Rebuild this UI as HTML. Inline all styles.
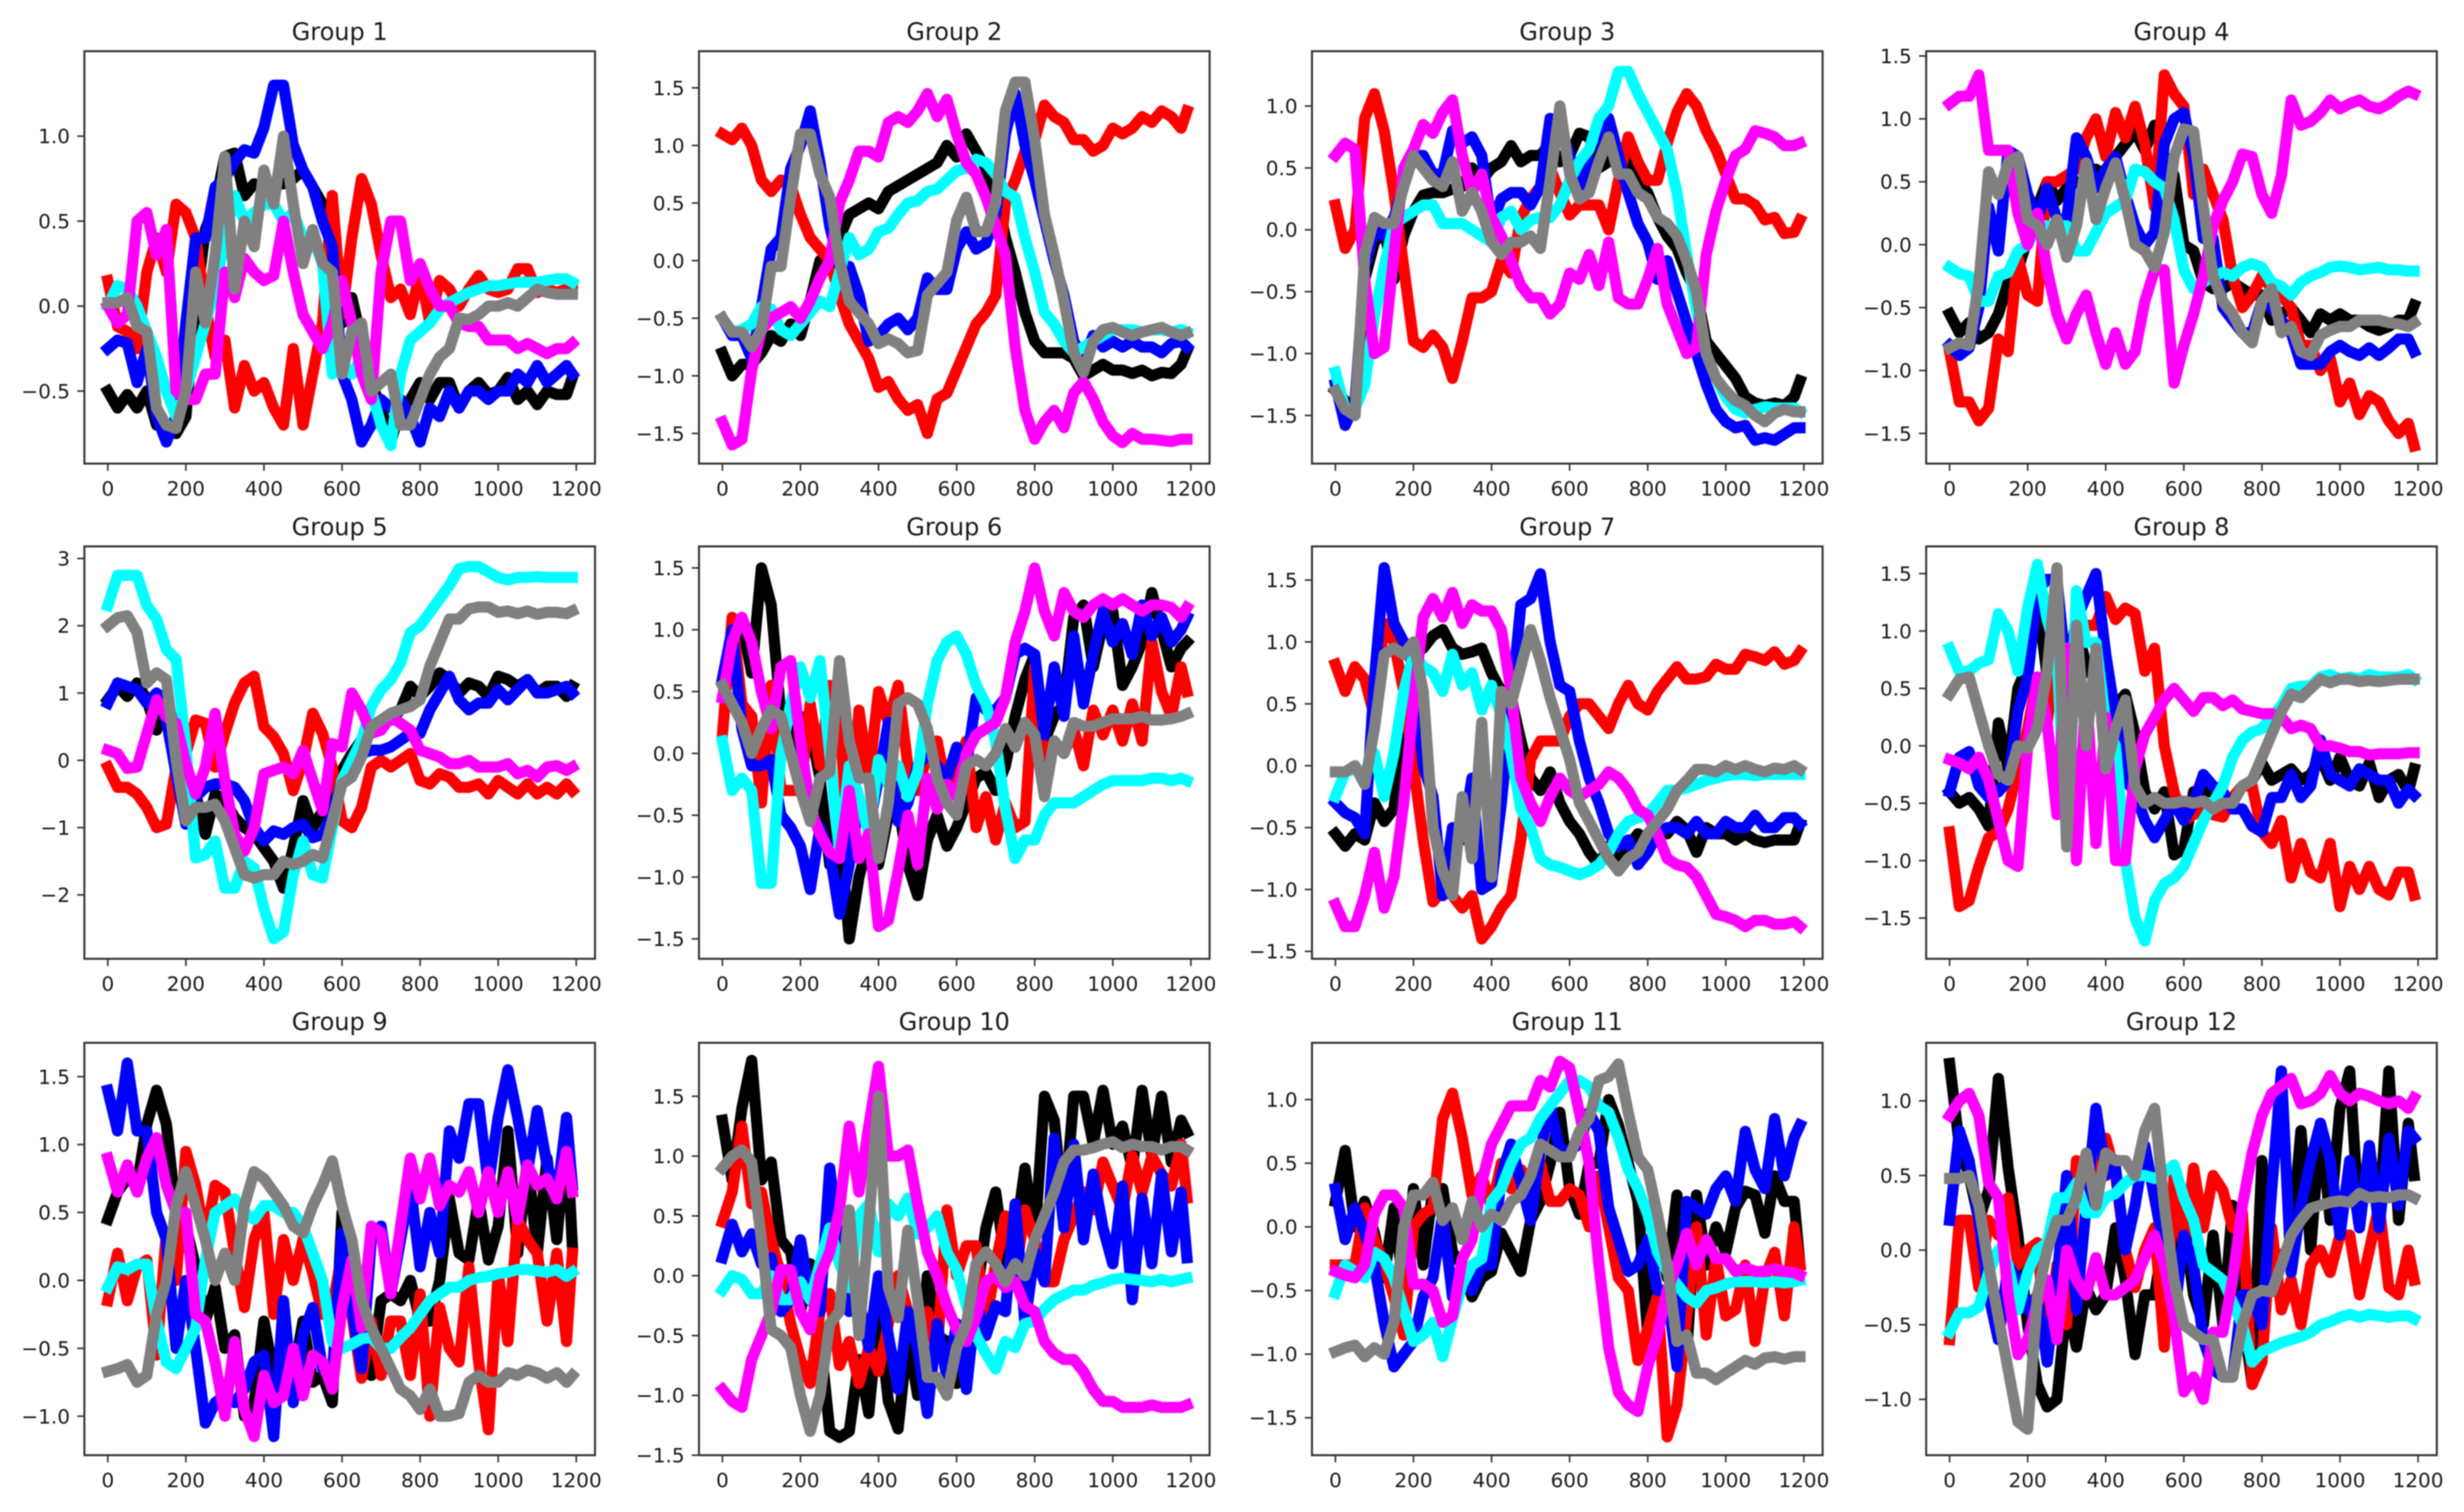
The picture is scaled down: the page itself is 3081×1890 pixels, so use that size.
<!DOCTYPE html>
<html lang="en">
<head>
<meta charset="utf-8">
<title>Group line charts</title>
<style>
html,body{margin:0;padding:0;background:#fff;width:3081px;height:1890px;overflow:hidden}
#chart{display:block;filter:blur(0.9px)}
text{font-family:"DejaVu Sans","Liberation Sans",sans-serif;fill:#1a1a1a}
</style>
</head>
<body>
<svg id="chart" xmlns="http://www.w3.org/2000/svg" width="3081" height="1890" viewBox="0 0 3081 1890"></svg>
<script>
const sampleStep = 25;
const lastSample = 1190;
const xTickValues = [0,200,400,600,800,1000,1200];
const xDomain = [-60,1248];

const yDomains = [[-0.927,1.50],[-1.762,1.818],[-1.889,1.443],[-1.74,1.538],[-2.95,3.18],[-1.661,1.674],[-1.56,1.772],[-1.855,1.737],[-1.287,1.749],[-1.5,1.947],[-1.794,1.446],[-1.374,1.389]];
const yTicks1 = [-0.5,0,0.5,1];
const yTicks2 = [-1.5,-1,-0.5,0,0.5,1,1.5];
const yTicks3 = [-1.5,-1,-0.5,0,0.5,1];
const yTicks4 = [-1.5,-1,-0.5,0,0.5,1,1.5];
const yTicks5 = [-2,-1,0,1,2,3];
const yTicks6 = [-1.5,-1,-0.5,0,0.5,1,1.5];
const yTicks7 = [-1.5,-1,-0.5,0,0.5,1,1.5];
const yTicks8 = [-1.5,-1,-0.5,0,0.5,1,1.5];
const yTicks9 = [-1,-0.5,0,0.5,1,1.5];
const yTicks10 = [-1.5,-1,-0.5,0,0.5,1,1.5];
const yTicks11 = [-1.5,-1,-0.5,0,0.5,1];
const yTicks12 = [-1,-0.5,0,0.5,1];

const g1Black = [-.5,-.6,-.52,-.6,-.5,-.7,-.7,-.75,-.65,0,.45,.6,.88,.9,.65,.72,.7,.72,.72,.75,.8,.7,.6,.3,-.1,.05,-.2,-.45,-.6,-.8,-.6,-.55,-.45,-.55,-.45,-.45,-.6,-.5,-.45,-.52,-.5,-.42,-.55,-.5,-.58,-.5,-.52,-.52,-.42];
const g1Red = [.15,-.12,-.15,-.25,.2,.4,.2,.6,.55,.4,0,-.3,-.2,-.6,-.35,-.5,-.45,-.6,-.7,-.25,-.7,-.4,-.1,.65,-.05,.4,.75,.6,.3,.05,.1,-.05,.2,-.1,.15,.1,0,.1,.18,.1,.08,.1,.22,.22,.08,.1,.08,.1,.1];
const g1Blue = [-.25,-.2,-.22,-.45,-.25,-.65,-.8,-.65,-.1,.4,.4,.7,.75,.85,.92,.9,1.05,1.3,1.3,.95,.8,.7,.5,.35,-.4,-.55,-.8,-.7,-.55,-.6,-.55,-.65,-.8,-.6,-.65,-.5,-.6,-.5,-.5,-.55,-.5,-.5,-.4,-.45,-.35,-.45,-.4,-.35,-.4];
const g1Cyan = [0,.12,.1,0,-.15,-.3,-.5,-.65,-.5,-.3,-.1,.1,.4,.65,.5,.55,.6,.6,.5,.55,.4,.4,.25,-.4,-.35,-.4,-.3,-.5,-.7,-.82,-.4,-.2,-.15,-.1,-.02,.02,.05,.08,.1,.12,.12,.13,.14,.14,.14,.15,.16,.16,.14];
const g1Magenta = [0,-.1,-.05,.5,.55,.3,.45,-.5,-.55,-.55,-.4,-.4,.2,.05,.28,.2,.15,.18,.5,.2,-.05,-.15,-.25,-.1,.15,-.1,-.4,-.55,.2,.5,.5,.15,.25,.1,0,0,-.1,-.12,-.12,-.2,-.2,-.2,-.25,-.22,-.25,-.28,-.25,-.25,-.22];
const g1Gray = [.02,.02,.05,-.12,-.15,-.6,-.7,-.72,-.5,.2,-.1,.3,.88,.1,.5,.35,.8,.6,1,.6,.25,.45,.25,.2,-.4,-.15,-.1,-.5,-.45,-.4,-.7,-.7,-.55,-.4,-.3,-.25,-.07,-.08,-.05,0,0,.02,0,.05,.1,.08,.07,.07,.07];

const g2Black = [-.8,-1,-.9,-.9,-.8,-.65,-.7,-.55,-.65,-.35,0,.05,.2,.4,.45,.5,.45,.6,.65,.7,.75,.8,.85,1,.9,1.1,.95,.8,.6,.2,-.1,-.45,-.7,-.8,-.8,-.8,-.85,-1,-.95,-.9,-.95,-.95,-.98,-.95,-1,-.97,-.98,-.9,-.78];
const g2Red = [1.1,1.05,1.15,1,.7,.6,.7,.65,.4,.2,.1,0,-.3,-.55,-.7,-.85,-1.1,-1.05,-1.2,-1.3,-1.25,-1.5,-1.2,-1.15,-.95,-.75,-.55,-.45,-.3,.5,.7,.95,1.05,1.35,1.25,1.2,1.05,1.05,.95,1,1.15,1.1,1.15,1.25,1.2,1.3,1.25,1.15,1.3];
const g2Blue = [-.5,-.65,-.65,-.85,-.4,.1,.2,.8,1,1.3,.85,.3,-.05,-.05,-.3,-.7,-.65,-.55,-.5,-.6,-.5,-.15,-.25,-.25,.1,.25,.1,.15,.4,1.1,1.45,1,.7,.35,0,-.3,-.7,-.85,-.65,-.75,-.7,-.75,-.7,-.75,-.75,-.8,-.72,-.7,-.75];
const g2Cyan = [-.5,-.62,-.6,-.55,-.4,-.42,-.6,-.65,-.55,-.45,-.35,-.4,-.1,.2,.05,.1,.25,.28,.4,.5,.52,.6,.62,.7,.78,.8,.88,.85,.75,.6,.55,.2,-.1,-.45,-.55,-.7,-.8,-.75,-.7,-.65,-.6,-.6,-.6,-.62,-.6,-.6,-.62,-.6,-.62];
const g2Magenta = [-1.4,-1.6,-1.55,-.95,-.6,-.5,-.45,-.4,-.5,-.35,-.15,0,.5,.7,.95,.95,.9,1.2,1.25,1.2,1.3,1.45,1.25,1.4,1.1,.85,.75,.55,.3,.05,-.75,-1.3,-1.55,-1.4,-1.3,-1.45,-1.15,-1.05,-1.2,-1.4,-1.52,-1.58,-1.5,-1.55,-1.55,-1.56,-1.57,-1.55,-1.55];
const g2Gray = [-.5,-.62,-.62,-.75,-.6,-.05,-.05,.55,1.1,1.1,.75,.55,0,-.35,-.45,-.55,-.72,-.68,-.72,-.8,-.78,-.3,-.2,-.1,.35,.55,.25,.25,.5,1.3,1.55,1.55,1.05,.4,.05,-.35,-.8,-.97,-.7,-.6,-.58,-.62,-.65,-.62,-.6,-.58,-.62,-.65,-.63];

const g3Black = [-1.3,-1.38,-1.5,-.4,-.1,0,-.4,-.05,.15,.28,.3,.3,.33,.35,.5,.4,.5,.55,.68,.55,.6,.6,.7,.55,.6,.78,.75,.5,.55,.65,.55,.4,.3,.1,-.05,-.15,-.35,-.5,-.9,-1,-1.1,-1.2,-1.35,-1.4,-1.42,-1.4,-1.42,-1.35,-1.22];
const g3Red = [.2,-.15,0,.9,1.1,.8,.3,-.3,-.9,-.95,-.85,-.95,-1.2,-.9,-.55,-.55,-.5,-.25,-.35,.1,.25,.35,.5,.3,.12,.2,.2,.2,0,.4,.75,.55,.4,.4,.7,.95,1.1,1,.8,.65,.45,.25,.25,.2,.08,.1,-.03,-.02,.08];
const g3Blue = [-1.25,-1.58,-1.4,-.3,0,-.05,.1,.35,.6,.6,.45,.45,.8,.7,.75,.6,.05,.25,.3,.3,.2,.35,.9,.85,.6,.35,.55,.55,.9,.6,.3,.05,-.1,-.4,-.25,-.5,-.75,-1,-1.25,-1.45,-1.55,-1.6,-1.58,-1.7,-1.68,-1.7,-1.65,-1.6,-1.6];
const g3Cyan = [-1.15,-1.45,-1.45,-1.25,-.7,-.3,.05,.1,.15,.2,.2,.05,.05,.05,0,-.05,-.1,.1,.15,0,.08,.1,.1,.2,.4,.55,.65,.9,1,1.28,1.28,1.1,.95,.8,.65,.3,-.2,-.65,-1,-1.2,-1.35,-1.45,-1.48,-1.45,-1.43,-1.44,-1.44,-1.44,-1.47];
const g3Magenta = [.6,.7,.65,-.4,-1,-.95,-.2,.5,.65,.85,.78,.95,1.05,.6,.3,.45,.1,-.05,-.25,-.45,-.55,-.55,-.68,-.6,-.35,-.4,-.2,-.45,-.1,-.55,-.6,-.6,-.4,-.15,-.6,-.8,-1,-.95,-.2,.15,.4,.6,.65,.8,.78,.75,.68,.68,.7];
const g3Gray = [-1.3,-1.45,-1.5,-.2,.1,.05,.05,.35,.6,.5,.4,.35,.55,.15,.3,.15,-.1,-.2,-.1,-.1,-.05,-.15,.4,1,.45,.25,.3,.55,.75,.45,.45,.3,.25,.1,.05,-.05,-.25,-.5,-1,-1.2,-1.3,-1.38,-1.42,-1.5,-1.55,-1.48,-1.45,-1.47,-1.47];

const g4Black = [-.55,-.7,-.62,-.75,-.7,-.55,-.3,-.2,.05,.3,.5,.35,.45,.5,.45,.6,.55,.7,.8,.9,.75,.95,.7,.55,0,-.05,-.3,-.35,-.35,-.3,-.35,-.4,-.4,-.6,-.55,-.5,-.6,-.7,-.55,-.6,-.55,-.6,-.6,-.65,-.68,-.65,-.6,-.6,-.48];
const g4Red = [-.85,-1.25,-1.25,-1.4,-1.3,-.75,-.85,-.1,-.4,-.45,.5,.5,.55,.6,.85,1,.7,1.05,.85,1.1,.8,.3,1.35,1.2,1.1,.4,.6,.4,.2,-.25,-.5,-.4,-.25,-.35,-.4,-.5,-.8,-.8,-1,-.9,-1.25,-1.1,-1.35,-1.2,-1.25,-1.4,-1.5,-1.42,-1.6];
const g4Blue = [-.8,-.88,-.82,-.5,.3,-.05,.75,.7,.4,.2,.45,.2,.2,.85,.7,.45,.6,.7,.4,.15,0,.1,.8,1,1.05,.7,.05,.05,-.5,-.6,-.7,-.7,-.45,-.5,-.6,-.7,-.95,-.95,-.95,-.85,-.8,-.85,-.88,-.82,-.88,-.82,-.75,-.75,-.85];
const g4Cyan = [-.18,-.23,-.25,-.45,-.45,-.25,-.22,-.05,0,.15,.15,.15,.15,-.05,-.05,.1,.25,.3,.35,.6,.58,.5,.45,.2,-.2,-.35,-.3,-.25,-.22,-.25,-.18,-.15,-.18,-.3,-.33,-.4,-.3,-.25,-.22,-.18,-.17,-.18,-.2,-.19,-.18,-.2,-.2,-.21,-.21];
const g4Magenta = [1.12,1.18,1.18,1.35,.75,.75,.75,.25,0,.25,-.2,-.55,-.75,-.55,-.4,-.7,-.95,-.7,-.95,-.85,-.45,-.2,-.2,-1.1,-.8,-.55,-.25,.15,.35,.5,.72,.7,.4,.25,.55,1.15,.95,.98,1.05,1.15,1.08,1.12,1.15,1.1,1.08,1.12,1.18,1.22,1.2];
const g4Gray = [-.82,-.78,-.8,-.3,.58,.4,.65,.7,.2,.15,0,.2,-.1,.15,.65,.2,.45,.65,.35,0,-.05,-.18,.1,.7,.92,.9,.3,-.25,-.45,-.55,-.7,-.78,-.45,-.35,-.7,-.65,-.85,-.88,-.72,-.68,-.65,-.65,-.6,-.6,-.6,-.62,-.63,-.65,-.62];

const g5Black = [.9,1.1,.95,1.15,.9,.45,1,.3,-.3,-.5,-1.1,-.5,-.6,-.85,-1,-1.1,-1.3,-1.5,-1.9,-1.3,-.6,-1,-.75,-.4,-.15,.1,.3,.5,.6,.6,.75,1.1,.95,1.1,1.3,1.2,1,1.15,1.1,.95,1.25,1.2,1.1,1.2,1,1.1,1.1,.95,1.1];
const g5Red = [-.1,-.4,-.4,-.5,-.7,-1,-.95,-.1,.1,.6,.55,-.1,.4,.85,1.15,1.25,.5,.35,.1,-.45,0,.7,.4,-.1,-.9,-1,-.7,-.1,0,-.1,0,.1,-.3,-.35,-.2,-.25,-.4,-.4,-.35,-.5,-.3,-.4,-.5,-.35,-.5,-.4,-.5,-.35,-.45];
const g5Blue = [.85,1.15,1.1,1.05,.85,1,.6,-.2,-.95,-.55,-.4,-.35,-.35,-.4,-.6,-1,-1.2,-1.05,-1.1,-1,-.95,-1.15,-1.1,-.8,-.3,0,.1,.15,.15,.2,.3,.4,.4,.75,1,1.25,.9,.75,.85,.85,1.05,.9,1.05,1.2,1,1,1.05,1.1,1];
const g5Cyan = [2.3,2.75,2.75,2.75,2.3,2.1,1.65,1.5,.2,-1.45,-1.4,-1.2,-1.9,-1.9,-1.5,-1.6,-2.2,-2.65,-2.55,-1.7,-1.2,-1.7,-1.75,-1,-.3,0,.3,.8,1.05,1.2,1.45,1.9,2,2.2,2.4,2.6,2.85,2.88,2.88,2.8,2.72,2.68,2.72,2.72,2.73,2.72,2.72,2.72,2.72];
const g5Magenta = [.15,.1,-.12,-.1,.4,.9,.65,.55,-.05,-.5,-.1,.7,-.3,-1.1,-1.35,-1,-.2,-.15,-.1,-.2,.15,-.3,-.75,.25,.2,1,.75,.4,.45,.65,.55,.45,.15,.1,.05,-.05,-.05,0,-.1,-.1,-.1,-.05,-.2,-.15,-.25,-.1,-.08,-.15,-.1];
const g5Gray = [2,2.12,2.15,1.9,1.15,1.3,1.2,0,-.9,-.7,-.7,-.65,-.9,-1.3,-1.7,-1.75,-1.7,-1.7,-1.5,-1.55,-1.5,-1.4,-1.45,-.9,-.35,-.25,.05,.5,.6,.7,.75,.8,.9,1.4,1.75,2.1,2.1,2.25,2.28,2.28,2.2,2.22,2.18,2.22,2.17,2.2,2.2,2.18,2.22];

const g6Black = [.6,1,1.05,.65,1.5,1.2,.3,0,.3,.2,-.2,-.9,-.6,-1.5,-1,-.7,-.9,-.5,-.4,-.9,-1.15,-.7,-.5,-.75,-.6,-.4,-.2,-.15,-.3,-.1,.3,.6,.8,.1,.3,.4,1.1,1.2,.7,1.05,1.15,.55,.7,.9,1.3,1,.7,.85,.9];
const g6Red = [.15,1.1,.4,.3,-.4,.55,-.3,-.3,-.3,.4,-.1,.55,.3,-.85,.35,-.2,.5,.25,.55,-.1,-.3,0,.1,-.3,-.1,.1,-.6,-.35,-.7,-.4,-.6,-.55,.7,-.1,.1,0,.2,-.1,.35,.15,.35,.1,.4,.1,.9,.5,.3,.7,.5];
const g6Blue = [.6,1,.2,-.1,-.1,-.05,-.5,-.6,-.75,-1.1,-.6,-.8,-1.3,-.9,-.4,-.6,-.2,.25,-.55,-.4,-.1,0,-.1,-.2,.05,-.1,.45,.35,.35,.45,.8,.85,.8,.15,.7,.3,.95,.4,.8,1.15,.9,1.05,.8,1.2,.95,1.1,.9,1,1.1];
const g6Cyan = [.1,-.3,-.2,-.3,-1.05,-1.05,0,.4,.7,.45,.75,0,-.8,-.1,-.35,-.65,-.05,-.25,-.1,-.35,-.15,.4,.75,.9,.95,.8,.55,.4,.1,-.45,-.85,-.7,-.7,-.5,-.4,-.4,-.4,-.35,-.3,-.25,-.22,-.22,-.22,-.22,-.2,-.2,-.22,-.2,-.22];
const g6Magenta = [.45,.9,1.1,.9,.5,.2,.7,.75,.1,-.45,-.65,-.8,-.85,-.3,-.85,-.65,-1.4,-1.35,-.95,-.5,-.9,-.2,-.45,-.25,-.35,0,.15,.2,.25,.45,.9,1.15,1.5,1.15,.95,1.3,1.15,1.1,1.2,1.25,1.2,1.25,1.2,1.15,1.2,1.2,1.18,1.1,1.18];
const g6Gray = [.55,.4,.25,0,.2,.35,.3,0,-.3,-.55,-.2,-.15,.75,.1,-.2,-.2,-.85,-.4,.4,.45,.4,.2,-.2,-.4,-.5,-.1,-.05,-.1,0,.2,.05,.25,.15,-.35,.1,0,.25,.22,.22,.25,.28,.28,.28,.3,.27,.27,.28,.3,.32];

const g7Black = [-.55,-.65,-.55,-.6,-.3,-.45,-.35,.3,.9,.95,1.05,1.1,.95,.9,.92,.95,.75,.6,.55,.2,-.1,-.2,-.05,-.3,-.45,-.55,-.7,-.8,-.65,-.8,-.65,-.55,-.6,-.5,-.55,-.45,-.52,-.7,-.5,-.55,-.55,-.6,-.55,-.6,-.62,-.6,-.6,-.6,-.47];
const g7Red = [.82,.6,.8,.7,.4,1.15,1,.6,0,-.6,-1.1,-1,-1.05,-1.15,-1.05,-1.4,-1.3,-1.15,-1.05,-.6,.05,.2,.2,.2,.4,.5,.5,.4,.3,.5,.65,.5,.45,.6,.7,.8,.7,.7,.72,.82,.78,.78,.9,.88,.85,.92,.82,.85,.92];
const g7Blue = [-.3,-.38,-.42,-.55,.7,1.6,1.15,1,.8,0,-.25,-1.05,-.5,-.6,-.1,-1,-.95,-.3,.5,1.3,1.35,1.55,1,.65,.6,.2,-.1,-.3,-.55,-.65,-.6,-.8,-.7,-.55,-.5,-.5,-.55,-.45,-.55,-.55,-.45,-.5,-.5,-.4,-.5,-.5,-.42,-.42,-.47];
const g7Cyan = [-.25,-.05,-.03,-.05,.1,-.25,.1,.6,.9,.8,.75,.6,.9,.65,.75,.45,.65,.4,.1,-.35,-.5,-.75,-.8,-.82,-.85,-.88,-.85,-.8,-.7,-.55,-.45,-.42,-.4,-.3,-.2,-.2,-.18,-.15,-.12,-.1,-.08,-.07,-.07,-.08,-.07,-.07,-.07,-.07,-.07];
const g7Magenta = [-1.12,-1.3,-1.3,-1.05,-.7,-1.15,-.9,-.3,.5,1.2,1.35,1.2,1.4,1.15,1.3,1.25,1.25,1.1,.6,-.1,-.3,-.45,-.25,-.1,-.2,-.25,-.2,-.15,-.05,-.1,-.2,-.35,-.4,-.55,-.75,-.8,-.82,-.9,-1.05,-1.2,-1.22,-1.25,-1.3,-1.25,-1.25,-1.28,-1.28,-1.26,-1.3];
const g7Gray = [-.05,-.05,0,-.15,.3,.9,.95,.9,1,.6,-.5,-.85,-1.05,-.25,-.75,.35,-.9,.6,.5,.8,1.1,.85,.55,.3,.05,-.3,-.45,-.6,-.75,-.85,-.75,-.7,-.55,-.45,-.35,-.2,-.12,-.03,-.03,-.05,0,-.03,0,-.03,-.05,-.02,-.03,0,-.03];

const g8Black = [-.4,-.5,-.45,-.55,-.7,.2,-.2,.5,.7,1.3,.6,.9,.4,1.05,.7,.55,.2,.35,.45,.1,-.4,-.55,-.4,-.95,-.9,-.4,-.4,-.4,-.45,-.45,-.35,-.3,-.15,-.3,-.25,-.2,-.3,-.25,-.1,-.3,-.1,-.3,-.35,-.15,-.45,-.3,-.25,-.4,-.2];
const g8Red = [-.75,-1.4,-1.35,-1.05,-.8,-.75,-.55,-.2,.15,.6,.2,.9,.85,1,1.05,1.05,1.3,1.1,1.2,1.15,.65,.85,0,-.4,-.65,-.6,-.55,-.6,-.62,-.45,-.35,-.35,-.75,-.85,-.65,-1.15,-.85,-1.1,-1.15,-.85,-1.4,-1.05,-1.25,-1.05,-1.25,-1.3,-1.1,-1.1,-1.3];
const g8Blue = [-.4,-.1,-.05,-.35,-.45,-.4,-.3,.3,.6,1.35,1.45,1.45,.6,1.1,1.3,1.5,.8,.25,-.3,-.4,-.65,-.8,-.65,-.5,-.65,-.5,-.25,-.35,-.4,-.55,-.55,-.7,-.75,-.45,-.45,-.25,-.45,-.35,.05,-.25,-.3,-.35,-.2,-.25,-.3,-.3,-.5,-.38,-.43];
const g8Cyan = [.85,.65,.65,.72,.75,1.15,1,.65,1.2,1.58,1.1,.8,-.85,1.35,.9,.9,.2,0,-1,-1.5,-1.7,-1.35,-1.2,-1.15,-1.05,-.85,-.65,-.5,-.35,-.1,.05,.12,.15,.25,.35,.5,.52,.52,.6,.62,.58,.6,.58,.62,.6,.6,.6,.62,.58];
const g8Magenta = [-.12,-.15,-.2,-.1,-.3,-.65,-1,-1.05,0,.6,.2,-.6,.85,-1,.5,-.85,.25,-1,-1,-.2,.1,.25,.4,.5,.4,.3,.42,.42,.35,.4,.32,.3,.28,.28,.25,.15,.18,.15,0,0,-.02,-.05,-.05,-.08,-.07,-.07,-.07,-.06,-.06];
const g8Gray = [.45,.58,.6,.3,0,-.25,-.3,0,-.02,.15,.65,1.55,-.88,1.05,0,.85,-.2,.15,.4,-.35,-.5,-.45,-.5,-.5,-.48,-.5,-.48,-.55,-.5,-.5,-.35,-.3,-.1,.1,.3,.45,.42,.5,.58,.55,.58,.58,.56,.57,.56,.57,.58,.58,.58];

const g9Black = [.45,.65,.75,.7,1.15,1.4,1.15,.5,.4,.1,-.3,-.05,-.5,-.4,-1,-.9,-.3,-.7,-.8,-.7,-.3,-.75,-.7,-.9,.5,.2,-.2,-.7,-.15,-.1,-.15,0,-.3,-.3,0,.6,.2,.15,.6,.15,.4,1.1,.2,.9,.2,.9,.3,1.1,.25];
const g9Red = [-.15,.2,-.15,.1,.15,-.55,.35,0,.95,.7,.3,.7,.65,.2,-.2,.3,.5,-.25,.3,0,.3,.05,-.25,-.2,.2,-.25,-.72,-.3,-.7,-.3,-.3,-.7,-.1,-1,-.2,-.5,-.6,.1,-.6,-1.1,.05,-.45,.45,.3,.2,-.3,.2,-.45,.2];
const g9Blue = [1.4,1.1,1.6,1.1,1.1,.5,.3,-.5,0,-.5,-1.05,-.9,-.85,-.9,-.8,-.6,-.55,-1.15,-.15,-.9,-.4,-.2,-.65,-.7,.35,-.2,-.65,.3,.4,-.1,.3,.7,.1,.5,.2,1.1,.9,1.3,1.3,.7,1.2,1.55,1.2,.8,1.25,.85,.6,1.2,.7];
const g9Cyan = [-.05,.1,.08,.12,.12,-.3,-.6,-.65,-.5,-.35,.15,.5,.55,.6,.5,.45,.55,.55,.5,.5,.4,.2,0,-.45,-.5,-.47,-.43,-.42,-.5,-.5,-.42,-.35,-.25,-.15,-.1,-.05,-.05,0,.02,.03,.05,.06,.08,.08,.07,.06,.08,.03,.06];
const g9Magenta = [.9,.65,.85,.65,.9,1.05,.7,.5,.5,-.25,-.3,-.6,-1,-.45,-.95,-1.15,-.7,-.9,-.85,-.5,-.85,-.55,-.6,-.8,-.2,.15,-.35,.4,.35,-.1,.4,.9,.6,.9,.55,.7,.65,.8,.5,.8,.5,.8,.45,.85,.7,.75,.6,.95,.65];
const g9Gray = [-.67,-.65,-.62,-.75,-.7,-.25,0,.55,.8,.55,.3,0,.2,0,.55,.8,.75,.65,.55,.4,.35,.55,.7,.88,.55,.3,-.15,-.35,-.5,-.65,-.8,-.85,-.95,-.8,-1,-1,-.98,-.75,-.7,-.75,-.75,-.68,-.7,-.66,-.68,-.72,-.68,-.75,-.7];

const g10Black = [1.3,.8,1.4,1.8,.8,.95,.3,.2,-.3,.1,-.5,-1.3,-1.35,-1.3,-.7,-1.15,-.3,-1.05,-1.28,-.5,-1,0,-.5,-.55,-.9,-.8,-.2,.4,.7,.1,.3,.9,.3,1.5,1.3,.5,1.5,1.5,1.1,1.55,1.1,1.25,.9,1.55,1,1.5,.95,1.3,1.2];
const g10Red = [.45,.7,1.25,.6,.7,.3,0,-.4,-.7,-.9,-.3,-.15,-.75,-.55,-.9,-.6,-.8,-.4,0,-.3,-.4,-.3,-.65,.55,0,.25,.25,-.4,.1,.5,0,.55,.3,-.05,-.05,.3,.5,.7,.55,.95,.75,.55,1,.7,1,.85,.75,1.1,.65];
const g10Blue = [.15,.43,.2,.35,.1,.15,-.3,-.2,.3,-.2,-.3,.9,.2,-.3,-.2,-.6,0,-.5,-.95,-.3,-.6,-1.15,-.4,-.85,-.4,-.95,-.2,-.5,-.25,-.3,.6,-.4,.2,-.05,1.15,.4,1.1,.3,.85,.4,.1,.75,-.2,.65,.1,.85,.2,.7,.15];
const g10Cyan = [-.12,0,-.03,-.15,-.15,0,-.2,-.2,-.05,-.2,.1,.4,.1,-.1,.5,.6,.2,.6,.5,.65,.35,.4,.5,.2,.05,-.25,-.5,-.65,-.78,-.55,-.6,-.4,-.38,-.28,-.2,-.16,-.12,-.12,-.08,-.06,-.03,-.02,-.03,-.04,-.05,-.03,-.05,-.03,-.02];
const g10Magenta = [-.95,-1.05,-1.1,-.7,-.5,-.3,.05,.05,-.3,-.45,0,.2,.55,1.25,.7,1.25,1.75,1,1,1.05,.6,.2,0,-.25,-.45,-.55,-.35,-.05,0,-.1,-.05,-.25,-.3,-.55,-.65,-.7,-.7,-.8,-.95,-1.05,-1.05,-1.1,-1.1,-1.1,-1.08,-1.1,-1.1,-1.1,-1.08];
const g10Gray = [.9,1,1.05,.95,.3,-.45,-.5,-.6,-1,-1.3,-1,-.4,-.3,.55,-.5,.43,1.5,-.1,-.35,.38,-.2,-.85,-.85,-1,-.6,-.4,.1,.2,.1,-.05,.1,0,.3,.5,.7,.95,1.05,1.05,1.07,1.1,1.12,1.07,1.1,1.08,1.08,1.05,1.08,1.08,1.05];

const g11Black = [.2,.6,0,.2,-.05,-.4,.15,-.5,.3,-.3,.3,.3,-.2,-.3,-.55,-.4,-.35,-.05,-.2,-.35,.05,.2,.5,.9,.3,.1,.5,.5,1,.8,.5,.2,-.85,0,-.4,.25,-1,.25,-.3,0,-.2,.15,.28,.25,-.05,.4,.2,.2,-.3];
const g11Red = [-.3,-.3,-.3,.15,-.1,-.3,-.55,-.85,0,.1,.15,.85,1.05,.7,.25,.4,.15,.5,.3,.45,.35,.5,.2,.2,.3,.25,0,.4,0,-.4,-.5,-1.05,-.8,-.55,-1.65,-1.4,-.7,0,-.85,-.25,-.7,-.65,-.3,-.9,-.4,-.2,-.7,0,-.3];
const g11Blue = [.3,-.1,.15,-.05,-.3,-.75,-1.1,-1,-.9,-.55,-.4,.1,-.55,-.4,-.5,-.3,-.3,.4,.65,.35,.05,.6,.95,.6,.6,.65,.9,.75,.15,-.1,-.35,-.3,-.1,-.5,-.5,-1.1,.2,.15,.1,.3,.4,.2,.75,.45,.3,.85,.4,.7,.8];
const g11Cyan = [-.52,-.3,-.35,-.4,-.2,-.25,-.4,-.65,-.9,-.85,-.75,-1.02,-.72,-.45,-.3,-.25,.2,.3,.5,.65,.7,.85,.95,1.05,1.15,1.15,1.1,.95,.9,.7,.45,.3,.1,-.2,-.35,-.45,-.55,-.6,-.5,-.48,-.45,-.43,-.43,-.43,-.44,-.43,-.44,-.43,-.42];
const g11Magenta = [-.35,-.38,-.4,-.3,.1,.25,.25,.15,-.45,-.45,-.5,-.75,-.7,-.25,-.1,.35,.65,.8,.95,.95,.95,1.15,1.1,1.3,1.25,.9,.5,-.3,-.95,-1.3,-1.4,-1.45,-1.1,-.85,-.5,-.3,-.05,-.3,-.1,-.25,-.25,-.35,-.32,-.35,-.35,-.33,-.35,-.36,-.38];
const g11Gray = [-.98,-.95,-.93,-1.02,-.95,-1,-.75,0,.25,.25,.35,.05,.15,-.1,.2,0,.1,.05,.2,.25,.4,.65,.6,.55,.55,.75,.85,1.15,1.18,1.28,.9,.55,.45,.1,-.3,-.9,-.85,-1.15,-1.15,-1.2,-1.15,-1.1,-1.05,-1.08,-1.03,-1.02,-1.04,-1.02,-1.02];

const g12Black = [1.25,.7,.5,.2,.4,1.15,.55,.1,-.5,-.9,-1.05,-1,-.35,-.65,-.25,-.4,-.3,.15,-.2,-.7,-.3,-.3,.1,0,.2,-.3,-.5,.1,-.5,.3,-.4,-.9,.6,-.2,-.05,.05,.8,0,.85,.2,.95,1.2,.15,.7,.2,1.2,.2,.85,.5];
const g12Red = [-.6,.2,.2,-.25,.2,.1,.35,-.1,0,.05,-.7,-.1,-.5,.6,.3,.4,.75,.5,0,-.25,0,.15,-.65,.5,0,.55,.15,.5,.4,.15,.25,-.9,-.75,.15,-.4,-.2,-.5,-.1,0,-.15,.1,.1,-.3,0,.3,-.25,-.3,0,-.2];
const g12Blue = [.2,.8,.6,.2,-.3,-.6,-.1,-.2,-.4,-.3,-.75,-.2,.5,-.4,.3,.95,.5,.55,0,.3,.7,.35,0,-.45,.1,-.1,-.6,-.8,-.85,-.85,-.3,-.3,-.5,.4,1.2,-.15,.3,.6,.85,.6,.1,.6,.15,.7,.15,.75,.3,.8,.75];
const g12Cyan = [-.55,-.42,-.42,-.38,-.15,0,-.1,-.4,-.15,0,.05,.35,.35,.45,.25,.25,.35,.38,.45,.5,.5,.48,.52,.57,.35,.2,-.1,-.15,-.2,-.35,-.5,-.75,-.68,-.65,-.62,-.6,-.58,-.55,-.5,-.48,-.45,-.43,-.45,-.43,-.44,-.45,-.44,-.44,-.46];
const g12Magenta = [.9,1,1.05,.9,.45,.35,-.3,-.7,-.6,-.35,-.2,-.6,0,-.2,-.3,-.05,-.3,-.3,-.25,-.2,-.05,.1,-.1,-.45,-.95,-.85,-1,-.55,-.55,-.2,.3,.65,.9,1.05,1.1,1.15,.98,1,1.05,1.17,1.05,1,1.05,1.03,1,.98,1,.95,1.02];
const g12Gray = [.48,.48,.5,.3,-.1,-.45,-.8,-1.15,-1.2,-.3,0,.2,.2,.35,.65,.3,.65,.6,.6,.5,.8,.95,.3,-.2,-.5,-.55,-.6,-.6,-.85,-.85,-.5,-.3,-.27,-.28,-.1,.1,.2,.28,.3,.32,.33,.32,.38,.35,.36,.35,.37,.37,.35];

const panelTitles = ["Group 1","Group 2","Group 3","Group 4","Group 5","Group 6","Group 7","Group 8","Group 9","Group 10","Group 11","Group 12"];
const seriesColors = ["#000000","#ff0000","#0000ff","#00ffff","#ff00ff","#808080"];
const seriesNames = ["black","red","blue","cyan","magenta","gray"];
const panelTicks = [yTicks1,yTicks2,yTicks3,yTicks4,yTicks5,yTicks6,yTicks7,yTicks8,yTicks9,yTicks10,yTicks11,yTicks12];
const panelSeries = [
  [g1Black,g1Red,g1Blue,g1Cyan,g1Magenta,g1Gray],
  [g2Black,g2Red,g2Blue,g2Cyan,g2Magenta,g2Gray],
  [g3Black,g3Red,g3Blue,g3Cyan,g3Magenta,g3Gray],
  [g4Black,g4Red,g4Blue,g4Cyan,g4Magenta,g4Gray],
  [g5Black,g5Red,g5Blue,g5Cyan,g5Magenta,g5Gray],
  [g6Black,g6Red,g6Blue,g6Cyan,g6Magenta,g6Gray],
  [g7Black,g7Red,g7Blue,g7Cyan,g7Magenta,g7Gray],
  [g8Black,g8Red,g8Blue,g8Cyan,g8Magenta,g8Gray],
  [g9Black,g9Red,g9Blue,g9Cyan,g9Magenta,g9Gray],
  [g10Black,g10Red,g10Blue,g10Cyan,g10Magenta,g10Gray],
  [g11Black,g11Red,g11Blue,g11Cyan,g11Magenta,g11Gray],
  [g12Black,g12Red,g12Blue,g12Cyan,g12Magenta,g12Gray]
];

const svg = document.getElementById('chart');
const NS = 'http://www.w3.org/2000/svg';
const colLeft = [105.5,874,1640.5,2408.5];
const rowTop = [64,683,1303.5];
const titleGap = [14,14,16];
const plotW = 638.5;
const plotH = 515.5;
const SPINE = '#333333';

function make(tag, attrs, parent){
  const e = document.createElementNS(NS, tag);
  for (const k in attrs) e.setAttribute(k, attrs[k]);
  parent.appendChild(e);
  return e;
}
function fmtTick(v, useInt){
  const s = useInt ? String(Math.abs(v)) : Math.abs(v).toFixed(1);
  return (v < 0 ? '\u2212' : '') + s;
}

panelTitles.forEach(function(title, p){
  const L = colLeft[p % 4];
  const row = Math.floor(p / 4);
  const T = rowTop[row];
  const yd = yDomains[p];
  const scaleX = function(v){ return L + (v - xDomain[0]) / (xDomain[1] - xDomain[0]) * plotW; };
  const scaleY = function(v){ return T + plotH - (v - yd[0]) / (yd[1] - yd[0]) * plotH; };

  const g = make('g', {}, svg);
  
  

  panelSeries[p].forEach(function(values, s){
    const d = values.map(function(v, i){
      const x = Math.min(i * sampleStep, lastSample);
      return (i ? 'L' : 'M') + scaleX(x).toFixed(1) + ' ' + scaleY(v).toFixed(1);
    }).join('');
    const line = make('path', {d: d, fill: 'none', stroke: seriesColors[s], 'stroke-width': 14, 'stroke-linejoin': 'round', 'stroke-linecap': 'square'}, g);
    
    
  });

  const frame = make('rect', {x: L, y: T, width: plotW, height: plotH, fill: 'none', stroke: SPINE, 'stroke-width': 2.5}, g);
  
  

  xTickValues.forEach(function(v){
    const x = scaleX(v);
    const tick = make('line', {x1: x, x2: x, y1: T + plotH, y2: T + plotH + 9, stroke: SPINE, 'stroke-width': 2}, g);
    
    
    const label = make('text', {x: x, y: T + plotH + 40, 'font-size': 25, 'text-anchor': 'middle'}, g);
    label.textContent = String(v);
    
    
  });

  const useInt = panelTicks[p].every(function(v){ return Number.isInteger(v); });
  panelTicks[p].forEach(function(v){
    const y = scaleY(v);
    const tick = make('line', {x1: L - 9, x2: L, y1: y, y2: y, stroke: SPINE, 'stroke-width': 2}, g);
    
    
    const label = make('text', {x: L - 18, y: y + 9, 'font-size': 25, 'text-anchor': 'end'}, g);
    label.textContent = fmtTick(v, useInt);
    
    
  });

  const heading = make('text', {x: L + plotW / 2, y: T - titleGap[row], 'font-size': 30, 'text-anchor': 'middle'}, g);
  heading.textContent = title;
  
  
});
</script>
</body>
</html>
